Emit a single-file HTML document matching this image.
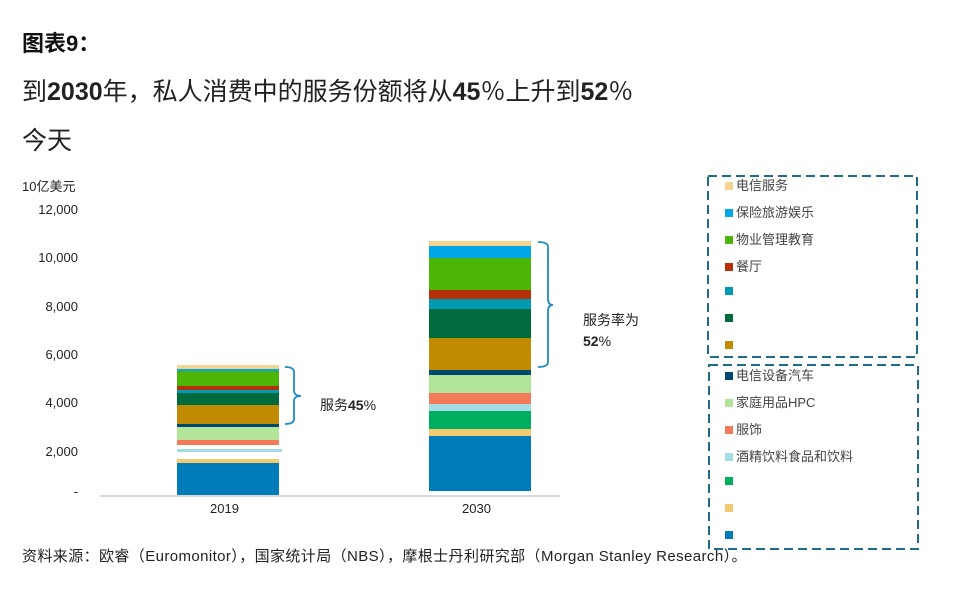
<!DOCTYPE html>
<html><head><meta charset="utf-8"><style>
body{margin:0;width:974px;height:604px;background:#fff;font-family:"Liberation Sans","Noto Sans CJK SC",sans-serif;position:relative;overflow:hidden}
.a{position:absolute;white-space:nowrap}
.yl{position:absolute;right:896px;font-size:13px;color:#222;text-align:right}
.lg{position:absolute;font-size:13px;color:#444;left:725px}
.lg i{display:inline-block;width:8px;height:8px;margin-right:3px;vertical-align:0px}
</style></head><body>
<div class="a" style="left:22px;top:26px;font-size:22px;font-weight:bold;color:#111">图表9：</div>
<div class="a" style="left:22px;top:72px;font-size:25px;color:#222">到<b>2030</b>年，私人消费中的服务份额将从<b>45</b>％上升到<b>52</b>％</div>
<div class="a" style="left:22px;top:121px;font-size:25px;color:#222">今天</div>
<div class="a" style="left:22px;top:176px;font-size:13px;color:#222">10亿美元</div>
<div class="yl" style="top:202px;right:896px">12,000</div>
<div class="yl" style="top:250px">10,000</div>
<div class="yl" style="top:299px">8,000</div>
<div class="yl" style="top:347px">6,000</div>
<div class="yl" style="top:395px">4,000</div>
<div class="yl" style="top:444px">2,000</div>
<div class="yl" style="top:484px">-</div>
<svg class="a" style="left:0;top:0" width="974" height="604">
<line x1="100" y1="496" x2="560" y2="496" stroke="#ccc" stroke-width="1.5"/>
<g shape-rendering="crispEdges">
<rect x="177" y="365" width="102" height="4" fill="#f5d48f"/>
<rect x="177" y="369" width="102" height="2" fill="#00a6e6"/>
<rect x="177" y="371" width="102" height="15" fill="#4db507"/>
<rect x="177" y="386" width="102" height="4" fill="#b52f08"/>
<rect x="177" y="390" width="102" height="3" fill="#009bb3"/>
<rect x="177" y="393" width="102" height="12" fill="#006b3c"/>
<rect x="177" y="405" width="102" height="19" fill="#c08b00"/>
<rect x="177" y="424" width="102" height="3" fill="#00496e"/>
<rect x="177" y="427" width="102" height="13" fill="#b2e59a"/>
<rect x="177" y="440" width="102" height="5" fill="#f47a5a"/>
<rect x="177" y="449" width="105" height="3" fill="#a3dbe6"/>
<rect x="177" y="459" width="102" height="4" fill="#f0cb72"/>
<rect x="177" y="463" width="102" height="32" fill="#007cb9"/>
<rect x="429" y="241" width="102" height="5" fill="#f5d48f"/>
<rect x="429" y="246" width="102" height="12" fill="#00a6e6"/>
<rect x="429" y="258" width="102" height="32" fill="#4db507"/>
<rect x="429" y="290" width="102" height="9" fill="#b52f08"/>
<rect x="429" y="299" width="102" height="10" fill="#009bb3"/>
<rect x="429" y="309" width="102" height="29" fill="#006b3c"/>
<rect x="429" y="338" width="102" height="32" fill="#c08b00"/>
<rect x="429" y="370" width="102" height="5" fill="#00496e"/>
<rect x="429" y="375" width="102" height="18" fill="#b2e59a"/>
<rect x="429" y="393" width="102" height="11" fill="#f47a5a"/>
<rect x="429" y="404" width="102" height="7" fill="#a3dbe6"/>
<rect x="429" y="411" width="102" height="18" fill="#00ae5f"/>
<rect x="429" y="429" width="102" height="7" fill="#f0cb72"/>
<rect x="429" y="436" width="102" height="55" fill="#007cb9"/>
</g>
<path d="M285 367 Q294 367 294 372 L294 390 Q294 396 301 396 Q294 396 294 401 L294 419 Q294 424 285 424" fill="none" stroke="#1f8ac4" stroke-width="1.8"/>
<path d="M538 242 Q548 242 548 247 L548 299 Q548 305 553 305 Q548 305 548 311 L548 362 Q548 367 538 367" fill="none" stroke="#1f8ac4" stroke-width="1.8"/>
<rect x="708" y="176" width="209" height="181" fill="none" stroke="#1e6b8c" stroke-width="2" stroke-dasharray="9,5"/>
<rect x="709" y="365" width="209" height="184" fill="none" stroke="#1e6b8c" stroke-width="2" stroke-dasharray="9,5"/>
</svg>
<div class="a" style="left:210px;top:501px;font-size:13px;color:#222">2019</div>
<div class="a" style="left:462px;top:501px;font-size:13px;color:#222">2030</div>
<div class="a" style="left:320px;top:395px;font-size:14px;color:#222">服务<b>45</b>%</div>
<div class="a" style="left:583px;top:310px;font-size:14px;color:#222;line-height:21px">服务率为<br><b>52</b>%</div>
<div class="lg" style="top:175px"><i style="background:#f5d48f"></i>电信服务</div>
<div class="lg" style="top:202px"><i style="background:#00a6e6"></i>保险旅游娱乐</div>
<div class="lg" style="top:229px"><i style="background:#4db507"></i>物业管理教育</div>
<div class="lg" style="top:256px"><i style="background:#b52f08"></i>餐厅</div>
<div class="lg" style="top:283px"><i style="background:#009bb3"></i></div>
<div class="lg" style="top:310px"><i style="background:#006b3c"></i></div>
<div class="lg" style="top:337px"><i style="background:#c08b00"></i></div>
<div class="lg" style="top:365px"><i style="background:#00496e"></i>电信设备汽车</div>
<div class="lg" style="top:392px"><i style="background:#b2e59a"></i>家庭用品HPC</div>
<div class="lg" style="top:419px"><i style="background:#f47a5a"></i>服饰</div>
<div class="lg" style="top:446px"><i style="background:#a3dbe6"></i>酒精饮料食品和饮料</div>
<div class="lg" style="top:473px"><i style="background:#00ae5f"></i></div>
<div class="lg" style="top:500px"><i style="background:#f0cb72"></i></div>
<div class="lg" style="top:527px"><i style="background:#007cb9"></i></div>
<div class="a" style="left:22px;top:545px;font-size:15px;letter-spacing:0.4px;color:#222">资料来源：欧睿（Euromonitor），国家统计局（NBS），摩根士丹利研究部（Morgan Stanley Research）。</div>
</body></html>
